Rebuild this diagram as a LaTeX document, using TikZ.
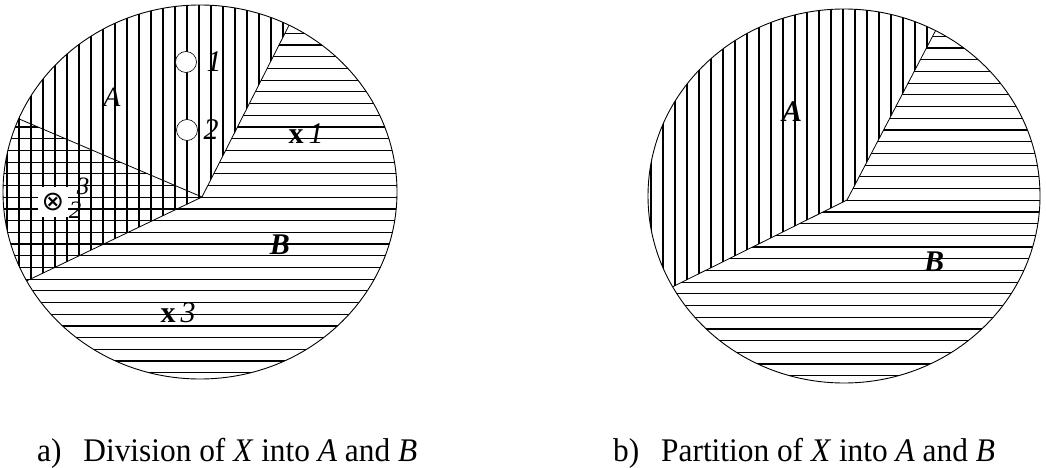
\documentclass[tikz,border=0pt]{standalone}
\usepackage{fontspec}
\setmainfont{Liberation Serif}
\newfontfamily\symfont{DejaVu Sans}
\usepackage{tikz}

\tikzset{
    hatch/.style={line width=1.2pt},
    rim/.style={line width=0.9pt},
    cut/.style={line width=0.8pt},
    lbl/.style={font=\fontsize{30}{32}\selectfont, inner sep=1pt},
    small/.style={font=\fontsize{25}{27}\selectfont, inner sep=0pt},
    hole/.style={draw, circle, fill=white, minimum size=21pt, inner sep=0pt, line width=0.6pt},
    caption/.style={font=\fontsize{33}{36}\selectfont, anchor=base west, inner sep=0pt, xscale=0.95}
}

\begin{document}
\begin{tikzpicture}[x=1pt, y=-1pt]
        \useasboundingbox (0,0) rectangle (1046,468);
        \coordinate (ca) at (202,197);
        \coordinate (cb) at (847,200);
        % a) division
        \begin{scope}
            \clip (200,192) ellipse [x radius=197, y radius=187];
            \begin{scope}
                \clip (ca) -- (314,-24) -- (-30,-24) -- (-30,308) -- cycle;
                \foreach \x in {7,19,...,400}
                    \draw[hatch] (\x,0) -- (\x,400);
            \end{scope}
            \begin{scope}
                \clip (ca) -- (314,-24) -- (420,-24) -- (420,400) -- (-30,400) -- (-30,98) -- cycle;
                \foreach \y in {10,21.7,...,390}
                    \draw[hatch] (0,\y) -- (400,\y);
            \end{scope}
            \draw[cut] (ca) -- (314,-24);
            \draw[cut] (ca) -- (-30,308);
            \draw[cut] (ca) -- (-30,98);
        \end{scope}
        \draw[rim] (200,192) ellipse [x radius=197, y radius=187];

        \node[lbl, font=\fontsize{28}{30}\selectfont] (la) at (112,97) {\textit{A}};
        \node[lbl] (lb) at (280,245) {\textbf{\textit{B}}};
        \node[hole] (p1) at (186,62) {};
        \node[lbl] (n1) at (214,62) {\textit{1}};
        \node[hole] (p2) at (187,130) {};
        \node[lbl] (n2) at (211,130) {\textit{2}};
        \node[lbl] (x1) at (306,134) {\textbf{x}\,\textit{1}};
        \node[lbl] (x3) at (178,313) {\textbf{x}\,\textit{3}};
        \node[fill=white, minimum width=30pt, minimum height=30pt, inner sep=0pt] (px) at (53,202) {\symfont\fontsize{27}{29}\selectfont ⊗};
        \node[small] (s3) at (83,186) {\textit{3}};
        \node[small] (s2) at (75,210) {\textit{2}};

        % b) partition
        \begin{scope}
            \clip (844,196) ellipse [x radius=196, y radius=187];
            \begin{scope}
                \clip (cb) -- (962,-20) -- (620,-20) -- (620,313) -- cycle;
                \foreach \x in {651,663,...,1046}
                    \draw[hatch] (\x,0) -- (\x,400);
            \end{scope}
            \begin{scope}
                \clip (cb) -- (962,-20) -- (1060,-20) -- (1060,400) -- (620,400) -- (620,313) -- cycle;
                \foreach \y in {13,24.7,...,395}
                    \draw[hatch] (640,\y) -- (1046,\y);
            \end{scope}
            \draw[cut] (cb) -- (962,-20);
            \draw[cut] (cb) -- (620,313);
        \end{scope}
        \draw[rim] (844,196) ellipse [x radius=196, y radius=187];

        \node[lbl] (ra) at (792,112) {\textbf{\textit{A}}};
        \node[lbl] (rb) at (934,262) {\textbf{\textit{B}}};

        \node[caption] (capa) at (37,461) {a)\hspace{0.7em}Division of \textit{X} into \textit{A} and \textit{B}};
        \node[caption] (capb) at (613,461) {b)\hspace{0.7em}Partition of \textit{X} into \textit{A} and \textit{B}};
    \end{tikzpicture}
\end{document}
